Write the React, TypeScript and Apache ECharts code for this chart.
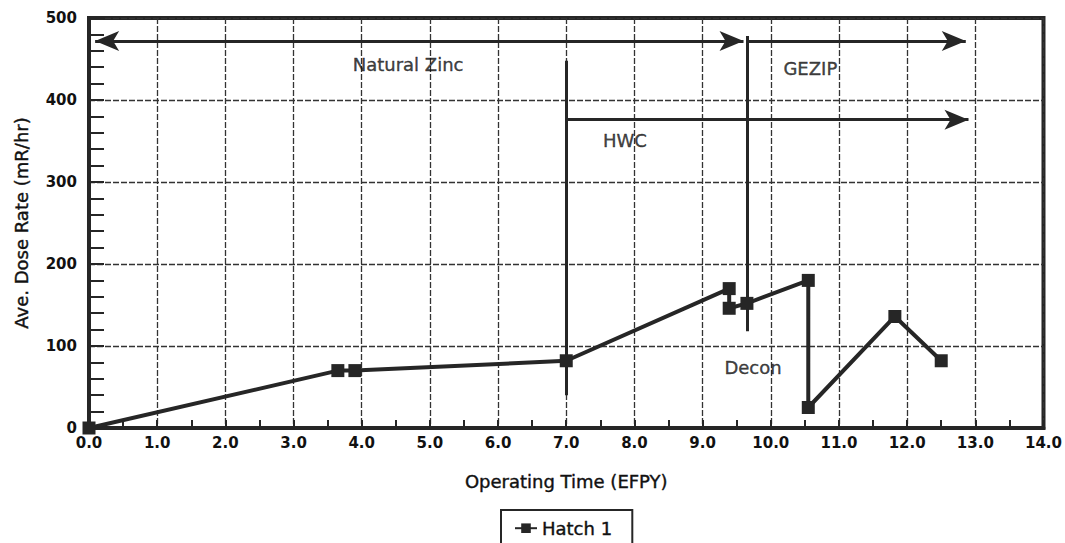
import React, { useEffect, useRef } from "react";
import * as echarts from "echarts";

// Hatch 1 series: [Operating Time (EFPY), Ave. Dose Rate (mR/hr)]
const hatch1X = [0.0, 3.65, 3.9, 7.0, 9.39, 9.39, 9.65, 10.55, 10.55, 11.82, 12.5];
const hatch1Y = [0, 70, 70, 82, 170, 146, 152, 180, 25, 136, 82];

const xTicks = { min: 0, max: 14, interval: 1 };
const yTicks = { min: 0, max: 500, interval: 100 };

// annotation lines: [x1, y1, x2, y2, startArrow, endArrow]
const annotationLines: [number, number, number, number, boolean, boolean][] = [
  [0.09, 472, 9.6, 472, true, true], // Natural Zinc
  [9.65, 472, 12.86, 472, false, true], // GEZIP
  [7.0, 376, 12.9, 376, false, true], // HWC
  [7.0, 40, 7.0, 448, false, false], // HWC start
  [9.65, 118, 9.65, 478, false, false], // GEZIP start
];

// annotation texts
const annotationNames = ["Natural Zinc", "GEZIP", "HWC", "Decon"];
const annotationX = [4.68, 10.58, 7.86, 9.74];
const annotationY = [443, 439, 351, 74];

const INK = "#262626";
const TXT = "#111111";
const FONT = "DejaVu Sans";

export default function App() {
  const ref = useRef<HTMLDivElement>(null);
  useEffect(() => {
    if (!ref.current) return;
    const chart = echarts.init(ref.current, undefined, { renderer: "svg" });
    const lineData = annotationLines.map(([x1, y1, x2, y2, s, e]) => [
      { coord: [x1, y1], symbol: s ? "arrow" : "none" },
      { coord: [x2, y2], symbol: e ? "arrow" : "none" },
    ]);
    const textBold = { textBorderColor: TXT, textBorderWidth: 0.4 };
    chart.setOption({
      animation: false,
      backgroundColor: "#ffffff",
      textStyle: { fontFamily: FONT, color: TXT },
      grid: {
        left: 89,
        right: 17,
        top: 18,
        bottom: 115,
        show: true,
        borderColor: INK,
        borderWidth: 4,
        backgroundColor: "transparent",
      },
      legend: {
        data: ["Hatch 1"],
        left: 501,
        top: 510,
        padding: [9, 20, 14, 13],
        borderColor: INK,
        borderWidth: 2,
        itemWidth: 22,
        itemHeight: 12,
        textStyle: { fontFamily: FONT, fontSize: 18, color: TXT, ...textBold },
      },
      xAxis: {
        type: "value",
        min: xTicks.min,
        max: xTicks.max,
        interval: xTicks.interval,
        name: "Operating Time (EFPY)",
        nameLocation: "middle",
        nameGap: 44,
        nameTextStyle: { fontFamily: FONT, fontSize: 18, color: TXT, ...textBold },
        axisLine: { show: true, onZero: false, lineStyle: { color: INK, width: 4 } },
        axisTick: { show: true, inside: true, length: 8, lineStyle: { color: INK, width: 2 } },
        minorTick: { show: true, splitNumber: 2, length: 8, lineStyle: { color: INK, width: 2 } },
        axisLabel: {
          fontFamily: FONT,
          fontSize: 15,
          fontWeight: "bold",
          color: TXT,
          margin: 7,
          formatter: (v: number) => v.toFixed(1),
        },
        splitLine: { show: true, lineStyle: { color: "#333333", width: 1.3, type: [6, 2] } },
      },
      yAxis: {
        type: "value",
        min: yTicks.min,
        max: yTicks.max,
        interval: yTicks.interval,
        name: "Ave. Dose Rate (mR/hr)",
        nameLocation: "middle",
        nameGap: 59,
        nameTextStyle: { fontFamily: FONT, fontSize: 18, color: TXT, ...textBold },
        axisLine: { show: true, onZero: false, lineStyle: { color: INK, width: 4 } },
        axisTick: { show: true, inside: true, length: 15, lineStyle: { color: INK, width: 2 } },
        minorTick: { show: true, splitNumber: 5, length: 15, lineStyle: { color: INK, width: 2 } },
        axisLabel: { fontFamily: FONT, fontSize: 15, fontWeight: "bold", color: TXT, margin: 12 },
        splitLine: { show: true, lineStyle: { color: "#333333", width: 1.3, type: [6, 2] } },
      },
      series: [
        {
          name: "annotations",
          type: "line",
          data: [],
          silent: true,
          markLine: {
            silent: true,
            symbolSize: [15, 24],
            label: { show: false },
            emphasis: { disabled: true },
            lineStyle: { color: INK, width: 3, type: "solid" },
            data: lineData,
          },
        },
        {
          name: "labels",
          type: "scatter",
          silent: true,
          symbolSize: 0,
          data: annotationNames.map((n, i) => ({ name: n, value: [annotationX[i], annotationY[i]] })),
          label: {
            show: true,
            position: "inside",
            formatter: "{b}",
            fontFamily: FONT,
            fontSize: 18,
            color: TXT,
            ...textBold,
          },
        },
        {
          name: "Hatch 1",
          type: "line",
          data: hatch1X.map((x, i) => [x, hatch1Y[i]]),
          symbol: "rect",
          symbolSize: 13,
          lineStyle: { color: INK, width: 4 },
          itemStyle: { color: INK },
          z: 5,
        },
      ],
    });
    return () => chart.dispose();
  }, []);
  return <div ref={ref} style={{ width: 1065, height: 543, position: "absolute", left: 0, top: 0 }} />;
}
